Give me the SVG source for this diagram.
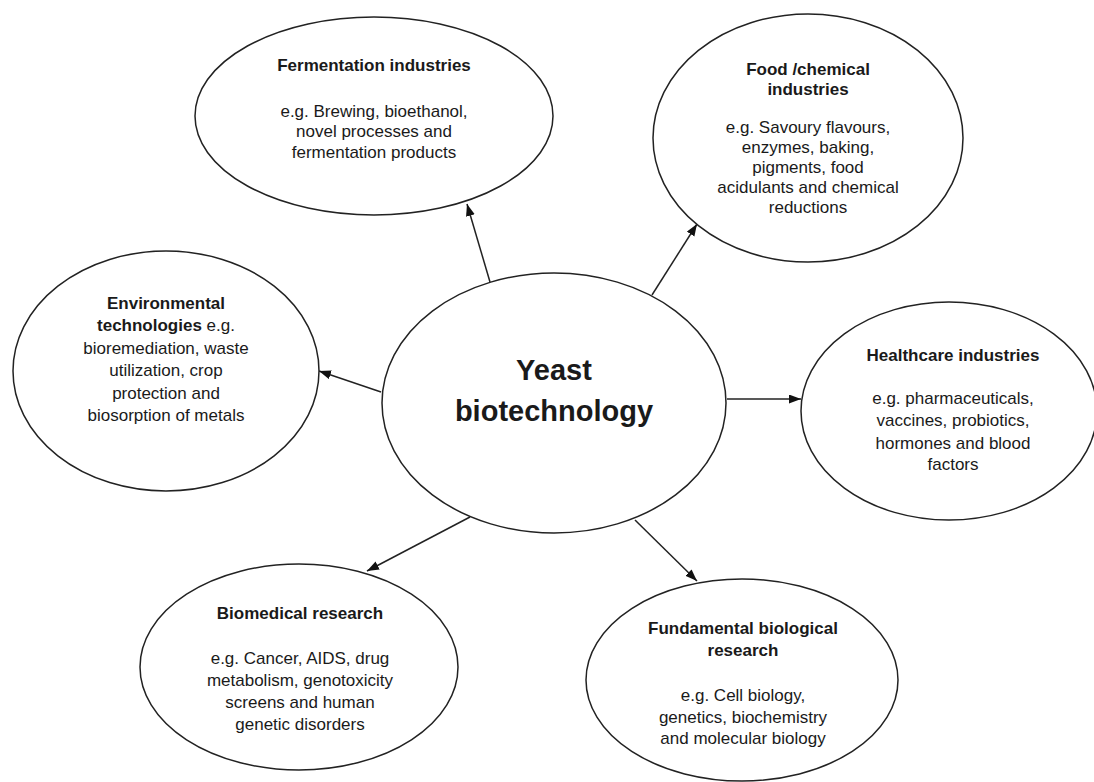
<svg xmlns="http://www.w3.org/2000/svg" width="1094" height="782" viewBox="0 0 1094 782">
<style>
.node{fill:#fff;stroke:#222;stroke-width:1.5}
text{font-family:"Liberation Sans",Arial,sans-serif;fill:#1a1a1a;text-anchor:middle;font-size:17px}
.h{font-weight:bold}
.big{font-weight:bold;font-size:29px}
.conn line{stroke:#222;stroke-width:1.5}
</style>
<defs>
<marker id="arr" markerUnits="userSpaceOnUse" markerWidth="13" markerHeight="10" refX="12" refY="4.5" orient="auto">
<path d="M0,0 L12,4.5 L0,9 z" fill="#111"/>
</marker>
</defs>
<rect width="1094" height="782" fill="#fff"/>
<g class="conn">
<line x1="490" y1="282" x2="467" y2="204" marker-end="url(#arr)"/>
<line x1="652" y1="295" x2="697" y2="224" marker-end="url(#arr)"/>
<line x1="381" y1="392" x2="319" y2="371" marker-end="url(#arr)"/>
<line x1="727" y1="399" x2="801" y2="399" marker-end="url(#arr)"/>
<line x1="470" y1="517" x2="367" y2="571" marker-end="url(#arr)"/>
<line x1="635" y1="520" x2="697" y2="581" marker-end="url(#arr)"/>
</g>
<g id="central">
<ellipse class="node" cx="554" cy="403" rx="172" ry="130"/>
<text class="big" x="554" y="380">Yeast</text>
<text class="big" x="554" y="421">biotechnology</text>
</g>
<g id="fermentation">
<ellipse class="node" cx="374" cy="116" rx="179" ry="99"/>
<text class="h" x="374" y="71">Fermentation industries</text>
<text x="374" y="117">e.g. Brewing, bioethanol,</text>
<text x="374" y="137">novel processes and</text>
<text x="374" y="158">fermentation products</text>
</g>
<g id="food">
<ellipse class="node" cx="808" cy="138" rx="155" ry="124"/>
<text class="h" x="808" y="75">Food /chemical</text>
<text class="h" x="808" y="95">industries</text>
<text x="808" y="133">e.g. Savoury flavours,</text>
<text x="808" y="153">enzymes, baking,</text>
<text x="808" y="173">pigments, food</text>
<text x="808" y="193">acidulants and chemical</text>
<text x="808" y="213">reductions</text>
</g>
<g id="environmental">
<ellipse class="node" cx="166" cy="371" rx="153" ry="120"/>
<text class="h" x="166" y="309">Environmental</text>
<text x="166" y="331"><tspan class="h">technologies</tspan> e.g.</text>
<text x="166" y="354">bioremediation, waste</text>
<text x="166" y="376">utilization, crop</text>
<text x="166" y="399">protection and</text>
<text x="166" y="421">biosorption of metals</text>
</g>
<g id="healthcare">
<ellipse class="node" cx="949" cy="411" rx="148" ry="109"/>
<text class="h" x="953" y="361">Healthcare industries</text>
<text x="953" y="404">e.g. pharmaceuticals,</text>
<text x="953" y="426">vaccines, probiotics,</text>
<text x="953" y="449">hormones and blood</text>
<text x="953" y="470">factors</text>
</g>
<g id="biomedical">
<ellipse class="node" cx="299" cy="667" rx="159" ry="103"/>
<text class="h" x="300" y="619">Biomedical research</text>
<text x="300" y="664">e.g. Cancer, AIDS, drug</text>
<text x="300" y="686">metabolism, genotoxicity</text>
<text x="300" y="708">screens and human</text>
<text x="300" y="730">genetic disorders</text>
</g>
<g id="fundamental">
<ellipse class="node" cx="742" cy="680" rx="156" ry="101"/>
<text class="h" x="743" y="634">Fundamental biological</text>
<text class="h" x="743" y="656">research</text>
<text x="743" y="701">e.g. Cell biology,</text>
<text x="743" y="723">genetics, biochemistry</text>
<text x="743" y="744">and molecular biology</text>
</g>
</svg>
